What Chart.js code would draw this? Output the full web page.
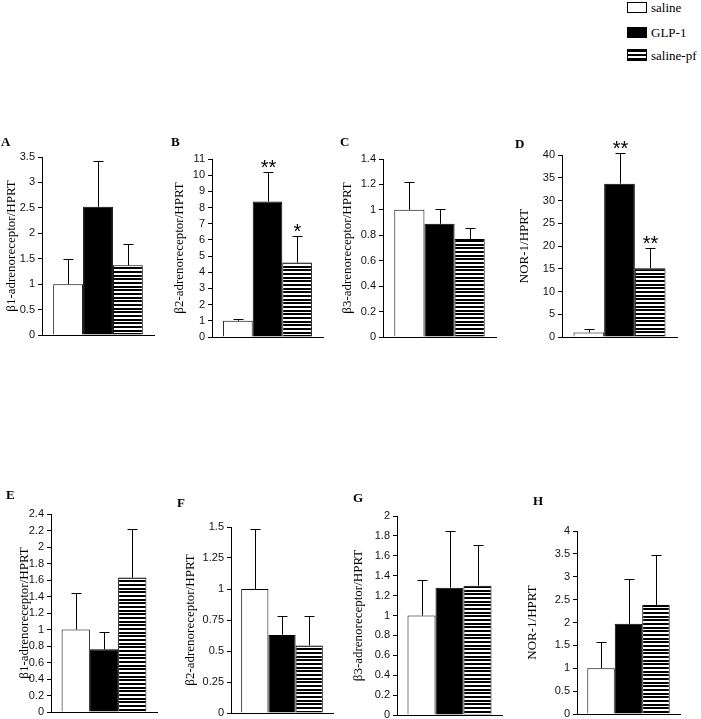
<!DOCTYPE html>
<html>
<head>
<meta charset="utf-8">
<script src="https://cdn.jsdelivr.net/npm/chart.js@4/dist/chart.umd.min.js"></script>
<style>
  body { margin: 0; width: 701px; height: 719px; overflow: hidden; background: #fff; position: relative; }
  canvas { position: absolute; }
  .letter { position: absolute; font: bold 13px "Liberation Serif", serif; line-height: 13px; color: #000; }
  .leg { position: absolute; left: 627px; width: 18px; height: 9px; border: 1px solid #000; box-sizing: content-box; }
  .legtxt { position: absolute; left: 651px; font: 13px "Liberation Serif", serif; line-height: 13px; color: #000; }
</style>
</head>
<body>
<div class="leg" style="top:2px;background:#fff"></div>
<div class="legtxt" style="top:1px">saline</div>
<div class="leg" style="top:27px;background:#000"></div>
<div class="legtxt" style="top:26px">GLP-1</div>
<div class="leg" style="top:49px;height:10px;background:repeating-linear-gradient(#000 0 2px,#fff 2px 4px)"></div>
<div class="legtxt" style="top:49px">saline-pf</div>

<script>
"use strict";

// Panels and groups
const panelNames = ['A', 'B', 'C', 'D', 'E', 'F', 'G', 'H'];
const groups = ['saline', 'GLP-1', 'saline-pf'];
const yTitles = [
    'β1-adrenoreceptor/HPRT', 'β2-adrenoreceptor/HPRT', 'β3-adrenoreceptor/HPRT', 'NOR-1/HPRT',
    'β1-adrenoreceptor/HPRT', 'β2-adrenoreceptor/HPRT', 'β3-adrenoreceptor/HPRT', 'NOR-1/HPRT'
];

// Means
const salineMean   = [1.0, 1.0, 1.0, 1.0, 1.0, 1.0, 1.0, 1.0];
const glpMean      = [2.52, 8.37, 0.89, 33.7, 0.76, 0.63, 1.28, 1.97];
const salinePfMean = [1.37, 4.6, 0.77, 15.1, 1.63, 0.545, 1.30, 2.38];

// Error bars (upper only)
const salineErr   = [0.50, 0.14, 0.22, 0.68, 0.44, 0.48, 0.36, 0.57];
const glpErr      = [0.90, 1.83, 0.115, 6.8, 0.21, 0.15, 0.57, 0.99];
const salinePfErr = [0.42, 1.66, 0.085, 4.4, 0.59, 0.235, 0.41, 1.09];

// Significance marks
const glpStars      = ['', '**', '', '**', '', '', '', ''];
const salinePfStars = ['', '*', '', '**', '', '', '', ''];

// Axis ranges / tick steps
const yMax  = [3.5, 11, 1.4, 40, 2.4, 1.5, 2, 4];
const yStep = [0.5, 1, 0.2, 5, 0.2, 0.25, 0.2, 0.5];

// where each panel sits on the page
const layout = [
    {axisX: 42,  titleX: 12,  top: 157, bottom: 335, right: 154, lx: 1,   ly: 137},
    {axisX: 212, titleX: 180, top: 159, bottom: 337, right: 323, lx: 171, ly: 137},
    {axisX: 383, titleX: 348, top: 159, bottom: 337, right: 496, lx: 340, ly: 137},
    {axisX: 562, titleX: 525, top: 155, bottom: 337, right: 677, lx: 515, ly: 139},
    {axisX: 51,  titleX: 25,  top: 514, bottom: 712, right: 157, lx: 6,   ly: 490},
    {axisX: 231, titleX: 191, top: 527, bottom: 713, right: 333, lx: 177, ly: 498},
    {axisX: 397, titleX: 359, top: 516, bottom: 715, right: 502, lx: 353, ly: 493},
    {axisX: 577, titleX: 533, top: 531, bottom: 714, right: 680, lx: 533, ly: 496}
];

const PAD_TOP = 22;

function stripePattern(ctx) {
    let c = document.createElement('canvas');
    c.width = 4;
    c.height = 11;
    let p = c.getContext('2d');
    p.fillStyle = '#fff';
    p.fillRect(0, 0, 4, 11);
    p.fillStyle = '#000';
    p.fillRect(0, 0, 4, 2);
    p.fillRect(0, 4, 4, 2);
    p.fillRect(0, 8, 4, 2);
    return ctx.createPattern(c, 'repeat');
}

// draws the error bars and the asterisks on top of each bar
const errorBarPlugin = {
    id: 'errorBars',
    afterDatasetsDraw(chart) {
        const ctx = chart.ctx;
        const yScale = chart.scales.y;
        ctx.save();
        ctx.strokeStyle = '#000';
        ctx.lineWidth = 1;
        chart.data.datasets.forEach((ds, i) => {
            const bar = chart.getDatasetMeta(i).data[0];
            const x = Math.round(bar.x) + 0.5;
            const yTop = yScale.getPixelForValue(ds.data[0] + ds.err);
            ctx.beginPath();
            ctx.moveTo(x, bar.y);
            ctx.lineTo(x, Math.round(yTop) + 0.5);
            ctx.moveTo(x - 5, Math.round(yTop) + 0.5);
            ctx.lineTo(x + 5, Math.round(yTop) + 0.5);
            ctx.stroke();
            if (ds.stars) {
                ctx.fillStyle = '#000';
                ctx.font = '20px "Liberation Sans"';
                ctx.textAlign = 'center';
                ctx.textBaseline = 'alphabetic';
                ctx.fillText(ds.stars, x, yTop + 2);
            }
        });
        ctx.restore();
    }
};

function drawPanel(i) {
    const L = layout[i];
    const canvasLeft = Math.round(L.titleX - 8);
    const yWidth = L.axisX - canvasLeft;

    let canvas = document.createElement('canvas');
    canvas.width = L.right - canvasLeft + 4;
    canvas.height = L.bottom - L.top + PAD_TOP + 10;
    canvas.style.left = canvasLeft + 'px';
    canvas.style.top = (L.top - PAD_TOP) + 'px';
    document.body.appendChild(canvas);

    let letter = document.createElement('div');
    letter.className = 'letter';
    letter.textContent = panelNames[i];
    letter.style.left = L.lx + 'px';
    letter.style.top = (L.ly - 2) + 'px';
    document.body.appendChild(letter);

    const ctx = canvas.getContext('2d');
    new Chart(ctx, {
        type: 'bar',
        data: {
            labels: [''],
            datasets: [
                {label: groups[0], data: [salineMean[i]], err: salineErr[i], stars: '', backgroundColor: '#fff'},
                {label: groups[1], data: [glpMean[i]], err: glpErr[i], stars: glpStars[i], backgroundColor: '#000'},
                {label: groups[2], data: [salinePfMean[i]], err: salinePfErr[i], stars: salinePfStars[i], backgroundColor: stripePattern(ctx)}
            ]
        },
        options: {
            responsive: false,
            animation: false,
            layout: {padding: {top: PAD_TOP, bottom: 10, left: 0, right: 4}},
            datasets: {bar: {categoryPercentage: 0.8, barPercentage: 1, borderColor: '#000', borderWidth: 1, borderSkipped: 'bottom'}},
            plugins: {legend: {display: false}, tooltip: {enabled: false}},
            scales: {
                x: {
                    ticks: {display: false},
                    grid: {display: false},
                    border: {display: true, color: '#000', width: 1},
                    afterFit: s => { s.height = 0; }
                },
                y: {
                    min: 0,
                    max: yMax[i],
                    ticks: {
                        stepSize: yStep[i],
                        autoSkip: false,
                        padding: 3,
                        color: '#111',
                        font: {family: 'Liberation Sans', size: 11},
                        callback: v => String(+v.toFixed(3))
                    },
                    grid: {display: true, drawOnChartArea: false, drawTicks: true, tickLength: 4, color: '#000'},
                    border: {display: true, color: '#000', width: 1},
                    title: {
                        display: true,
                        text: yTitles[i],
                        color: '#000',
                        padding: 0,
                        font: {family: 'Liberation Serif', size: 13, lineHeight: 1.2}
                    },
                    afterFit: s => { s.width = yWidth; }
                }
            }
        },
        plugins: [errorBarPlugin]
    });
}

for (let i = 0; i < panelNames.length; i++) {
    drawPanel(i);
}
</script>
</body>
</html>
